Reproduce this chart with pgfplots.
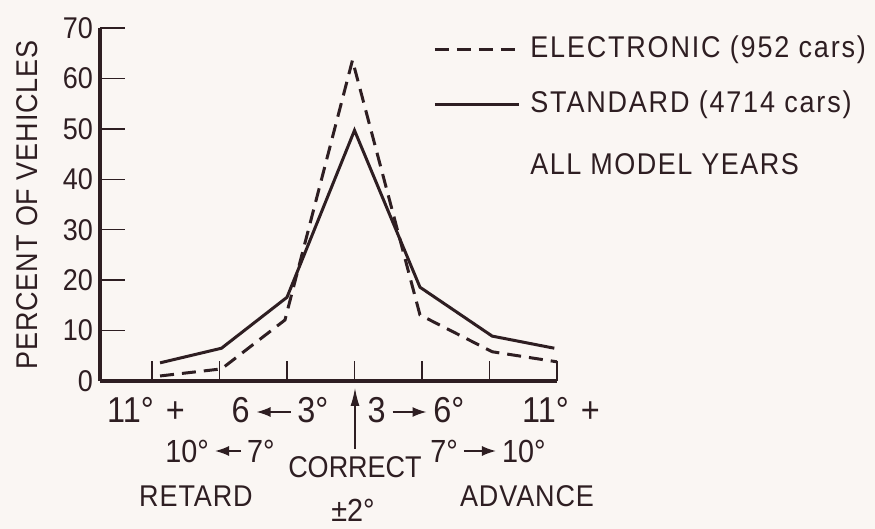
\documentclass[border=0pt]{standalone}
\usepackage{fontspec}
\setmainfont{Liberation Sans}[FakeStretch=0.9]
\usepackage{pgfplots}
\pgfplotsset{compat=1.18}
\usetikzlibrary{arrows.meta}
\definecolor{ink}{HTML}{2E1E22}
\definecolor{paper}{HTML}{FAF6F3}
\newcommand\fs[1]{\fontsize{#1}{#1}\selectfont}
\newcommand\ls[1]{\addfontfeature{LetterSpace=#1}}
% arrow inside the category labels: \arr{from}{to}{raise}
\newcommand\arr[3]{\tikz[baseline=-#3]\draw[ink, line width=0.8pt, -{Latex[length=7pt,width=5pt]}] (#1,0) -- (#2,0);}

\begin{document}
\begin{tikzpicture}
% canvas in reference pixels (1px = 0.5pt, y downwards)
\begin{scope}[x=0.5pt,y=-0.5pt]
\fill[paper] (0,0) rectangle (875,529);
\useasboundingbox (0,0) rectangle (875,529);
\end{scope}

\begin{axis}[
    at={(50pt,-190.5pt)}, anchor=south west,
    scale only axis,
    width=228.5pt, height=176.5pt,
    xmin=0.23, xmax=7, ymin=0, ymax=70,
    axis x line*=bottom, axis y line*=left,
    axis line style={ink, line width=2pt, -},
    xtick={1,...,7}, xticklabels={},
    ytick={0,10,...,70},
    tick align=inside,
    major tick length=12.5pt,
    xtick style={/pgfplots/major tick length=10pt},
    tick style={ink, line width=0.7pt},
    tick label style={font=\fs{15}, text=ink},
    /pgf/number format/assume math mode=true,
    clip=false,
    legend style={
      at={(axis description cs:0.7287,0.980)}, anchor=north west,
      draw=none, fill=none, inner sep=0pt, row sep=13.5pt,
      font=\fs{15}\ls{6}, text=ink,
      nodes={inner sep=0pt, text height=11pt, text depth=3pt}
    },
    legend cell align=left,
    legend image code/.code={\draw[#1] (0pt,0pt) -- (42pt,0pt); \path (47pt,0pt);},
]
\addplot[ink, line width=1.5pt, dash pattern=on 7pt off 4pt] coordinates {
    (1.12,1.0) (2.03,2.4) (2.97,12.1) (3.97,63.6) (4.97,13.1) (6.04,5.8) (7.0,3.8)};
\addlegendentry{ELECTRONIC (952 cars)}
\addplot[ink, line width=1.5pt] coordinates {
    (1.12,3.6) (2.03,6.5) (3.0,16.6) (4.0,49.7) (4.97,18.6) (6.04,8.9) (6.96,6.5)};
\addlegendentry{STANDARD (4714 cars)}
\end{axis}

\begin{scope}[x=0.5pt,y=-0.5pt, every node/.style={text=ink, inner sep=0pt}]
\node[anchor=west, font=\fs{15}\ls{5}] at (530,164) {ALL MODEL YEARS};
\node[rotate=90, font=\fs{15}\ls{3}] at (27,205) {PERCENT OF VEHICLES};
% x category labels
\node[anchor=base, font=\fs{18}] at (146,423) {11°\,\,+};
\node[anchor=base, font=\fs{18}] at (280,423) {6\,\arr{17pt}{0pt}{5.5pt}\,3°};
\node[anchor=base, font=\fs{18}] at (416,423) {3\,\arr{0pt}{17pt}{5.5pt}\,6°};
\node[anchor=base, font=\fs{18}] at (561,423) {11°\,\,+};
\node[anchor=base, font=\fs{16}] at (220,463) {10°\,\arr{13pt}{0pt}{6pt}\,7°};
\node[anchor=base, font=\fs{16}] at (488,463) {7°\,\arr{0pt}{16pt}{6pt}\,10°};
\node[anchor=base, font=\fs{15}] at (355,478) {CORRECT};
\node[anchor=base, font=\fs{15}\ls{3}] at (196,507) {RETARD};
\node[anchor=base, font=\fs{15}\ls{3}] at (527,507) {ADVANCE};
\node[anchor=base, font=\fs{16}] at (353,522) {±2°};
\draw[ink, line width=0.7pt, -{Latex[length=9pt,width=4.5pt]}] (355,449) -- (355,388);
\end{scope}
\end{tikzpicture}
\end{document}
